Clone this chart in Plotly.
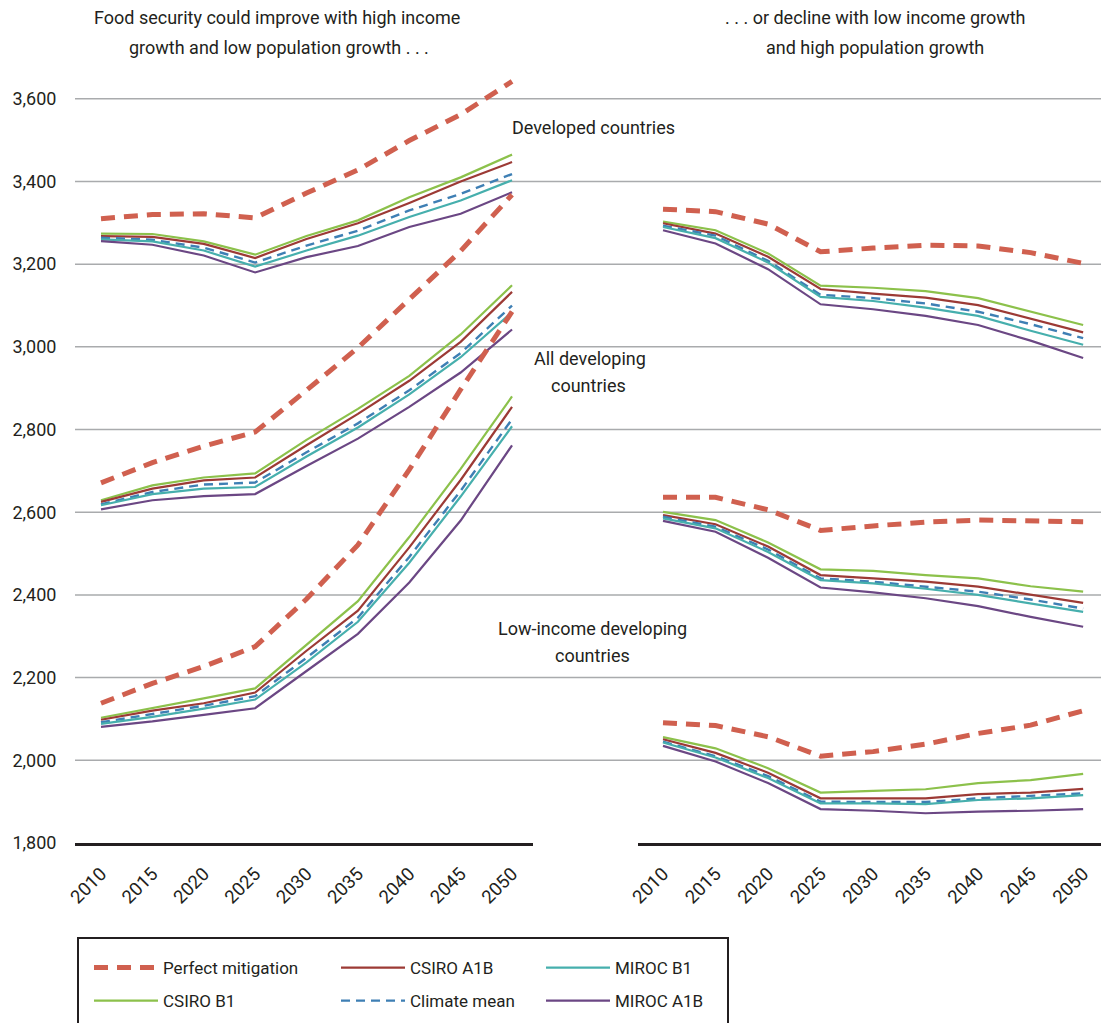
import plotly.graph_objects as go

# ---------------- data ----------------
years = [2010, 2015, 2020, 2025, 2030, 2035, 2040, 2045, 2050]
series = ["Perfect mitigation", "CSIRO B1", "CSIRO A1B", "Climate mean", "MIROC B1", "MIROC A1B"]

# Left panel: high income growth, low population growth
dev_pm_L = [3310, 3320, 3322, 3312, 3372, 3428, 3499, 3562, 3642]
dev_csb1_L = [3274, 3273, 3255, 3223, 3268, 3306, 3362, 3410, 3465]
dev_csa1b_L = [3268, 3266, 3249, 3215, 3261, 3299, 3348, 3400, 3447]
dev_mean_L = [3264, 3259, 3240, 3204, 3245, 3281, 3330, 3370, 3418]
dev_mib1_L = [3260, 3255, 3233, 3194, 3233, 3269, 3314, 3354, 3403]
dev_mia1b_L = [3256, 3247, 3221, 3180, 3217, 3244, 3290, 3322, 3374]

all_pm_L = [2671, 2720, 2760, 2794, 2895, 2998, 3115, 3232, 3368]
all_csb1_L = [2629, 2665, 2684, 2694, 2775, 2850, 2930, 3030, 3149]
all_csa1b_L = [2625, 2657, 2677, 2684, 2762, 2838, 2918, 3012, 3133]
all_mean_L = [2619, 2649, 2667, 2672, 2745, 2815, 2895, 2985, 3100]
all_mib1_L = [2617, 2644, 2657, 2661, 2735, 2805, 2885, 2975, 3084]
all_mia1b_L = [2607, 2629, 2639, 2644, 2712, 2778, 2855, 2938, 3042]

low_pm_L = [2138, 2186, 2227, 2275, 2390, 2521, 2703, 2897, 3085]
low_csb1_L = [2103, 2126, 2150, 2174, 2280, 2385, 2540, 2705, 2880]
low_csa1b_L = [2098, 2120, 2138, 2164, 2265, 2362, 2515, 2678, 2855]
low_mean_L = [2092, 2112, 2132, 2155, 2248, 2345, 2492, 2652, 2825]
low_mib1_L = [2088, 2105, 2125, 2147, 2237, 2335, 2478, 2638, 2808]
low_mia1b_L = [2081, 2094, 2110, 2126, 2216, 2306, 2430, 2580, 2762]

# Right panel: low income growth, high population growth
dev_pm_R = [3333, 3327, 3297, 3230, 3239, 3246, 3244, 3228, 3202]
dev_csb1_R = [3303, 3282, 3226, 3148, 3143, 3135, 3118, 3085, 3053]
dev_csa1b_R = [3299, 3274, 3218, 3140, 3129, 3119, 3101, 3068, 3035]
dev_mean_R = [3293, 3269, 3208, 3126, 3118, 3105, 3085, 3055, 3021]
dev_mib1_R = [3290, 3263, 3204, 3121, 3111, 3095, 3075, 3039, 3005]
dev_mia1b_R = [3282, 3250, 3188, 3103, 3091, 3075, 3053, 3015, 2973]

all_pm_R = [2636, 2636, 2606, 2556, 2567, 2576, 2581, 2579, 2577]
all_csb1_R = [2601, 2581, 2527, 2462, 2458, 2448, 2440, 2421, 2408]
all_csa1b_R = [2593, 2571, 2517, 2448, 2440, 2432, 2420, 2400, 2381]
all_mean_R = [2589, 2565, 2510, 2440, 2432, 2420, 2408, 2389, 2367]
all_mib1_R = [2585, 2561, 2504, 2436, 2428, 2415, 2400, 2380, 2359]
all_mia1b_R = [2579, 2553, 2490, 2418, 2406, 2392, 2373, 2347, 2323]

low_pm_R = [2091, 2084, 2057, 2010, 2021, 2039, 2065, 2085, 2120]
low_csb1_R = [2056, 2029, 1981, 1922, 1926, 1930, 1945, 1952, 1967]
low_csa1b_R = [2051, 2018, 1970, 1908, 1908, 1908, 1918, 1922, 1931]
low_mean_R = [2045, 2010, 1962, 1900, 1899, 1899, 1908, 1914, 1920]
low_mib1_R = [2043, 2007, 1957, 1896, 1896, 1894, 1904, 1908, 1916]
low_mia1b_R = [2035, 1997, 1945, 1882, 1878, 1872, 1876, 1878, 1882]

y_ticks = [1800, 2000, 2200, 2400, 2600, 2800, 3000, 3200, 3400, 3600]
grid_vals = [2000, 2200, 2400, 2600, 2800, 3000, 3200, 3400, 3600]

panels = {
    "x": [
        [dev_pm_L, dev_csb1_L, dev_csa1b_L, dev_mean_L, dev_mib1_L, dev_mia1b_L],
        [all_pm_L, all_csb1_L, all_csa1b_L, all_mean_L, all_mib1_L, all_mia1b_L],
        [low_pm_L, low_csb1_L, low_csa1b_L, low_mean_L, low_mib1_L, low_mia1b_L],
    ],
    "x2": [
        [dev_pm_R, dev_csb1_R, dev_csa1b_R, dev_mean_R, dev_mib1_R, dev_mia1b_R],
        [all_pm_R, all_csb1_R, all_csa1b_R, all_mean_R, all_mib1_R, all_mia1b_R],
        [low_pm_R, low_csb1_R, low_csa1b_R, low_mean_R, low_mib1_R, low_mia1b_R],
    ],
}

# ---------------- styles ----------------
styles = {
    "Perfect mitigation": dict(color="#d0604f", width=5, dash="14px,9px"),
    "CSIRO B1": dict(color="#8cc14b", width=2.2, dash="solid"),
    "CSIRO A1B": dict(color="#9c3a35", width=2.2, dash="solid"),
    "Climate mean": dict(color="#3e7fb4", width=2.4, dash="9px,6px"),
    "MIROC B1": dict(color="#46afad", width=2.2, dash="solid"),
    "MIROC A1B": dict(color="#6b4784", width=2.2, dash="solid"),
}
legend_of = {
    "Perfect mitigation": ("legend", 1), "CSIRO B1": ("legend", 2),
    "CSIRO A1B": ("legend2", 1), "Climate mean": ("legend2", 2),
    "MIROC B1": ("legend3", 1), "MIROC A1B": ("legend3", 2),
}
draw_order = [1, 2, 3, 4, 5, 0]  # perfect mitigation drawn on top

W, H = 1101, 1023
ML, MR, MT, MB = 75, 0, 74, 180
PW, PH = W - ML - MR, H - MT - MB
FONT = "Roboto, 'Noto Sans', sans-serif"
TXT = "#231f20"


def pxx(px):
    return (px - ML) / PW


def pxy(py):
    return (H - MB - py) / PH


fig = go.Figure()
for xa, regions in panels.items():
    for ri, region in enumerate(regions):
        for si in draw_order:
            name = series[si]
            st = styles[name]
            lg, rank = legend_of[name]
            show = (xa == "x" and ri == 0)
            fig.add_trace(go.Scatter(
                x=years, y=region[si], xaxis=xa, yaxis="y", mode="lines",
                name=name, legendgroup=name, legend=lg, legendrank=rank,
                showlegend=show,
                line=dict(color=st["color"], width=st["width"], dash=st["dash"]),
                hoverinfo="skip",
            ))

axis_common = dict(
    tickvals=years, tickangle=-45, showline=True, linecolor=TXT, linewidth=2.5,
    ticks="outside", ticklen=10, tickcolor="rgba(0,0,0,0)", showgrid=False,
    zeroline=False, tickfont=dict(size=18.5, color=TXT, family=FONT),
)
leg_common = dict(yanchor="top", xanchor="left", orientation="v",
                  font=dict(size=17, color=TXT, family=FONT), tracegroupgap=8,
                  itemwidth=64, bgcolor="rgba(0,0,0,0)")
fig.update_layout(
    width=W, height=H,
    margin=dict(l=ML, r=MR, t=MT, b=MB),
    paper_bgcolor="white", plot_bgcolor="white",
    font=dict(family=FONT, color=TXT),
    xaxis=dict(domain=[0, pxx(533)], range=[2007.47, 2052.04], anchor="y", **axis_common),
    xaxis2=dict(domain=[pxx(638), 1], range=[2007.62, 2051.7], anchor="y", **axis_common),
    yaxis=dict(range=[1800, 3660], tickvals=y_ticks, tickformat=",d", showgrid=False,
               zeroline=False, showline=False, ticks="outside", ticklen=14,
               tickcolor="rgba(0,0,0,0)", tickfont=dict(size=18, color=TXT, family=FONT)),
    legend=dict(x=pxx(89), y=pxy(950), **leg_common),
    legend2=dict(x=pxx(336), y=pxy(950), **leg_common),
    legend3=dict(x=pxx(541), y=pxy(950), **leg_common),
    showlegend=True,
)

shapes = []
for v in grid_vals:
    shapes.append(dict(type="line", xref="paper", yref="y", x0=0, x1=1, y0=v, y1=v,
                       line=dict(color="#a9abad", width=1.5), layer="below"))
shapes.append(dict(type="rect", xref="paper", yref="paper", x0=pxx(78), x1=pxx(728),
                   y0=pxy(938), y1=pxy(1040), line=dict(color=TXT, width=2),
                   fillcolor="rgba(0,0,0,0)", layer="above"))
fig.update_layout(shapes=shapes)

ann = []
def add_text(text, px, py, xanchor="center", size=18):
    ann.append(dict(text=text, x=pxx(px), y=pxy(py), xref="paper", yref="paper",
                    xanchor=xanchor, yanchor="middle", showarrow=False,
                    font=dict(size=size, color=TXT, family=FONT)))

add_text("Food security could improve with high income", 277, 18)
add_text("growth and low population growth . . .", 279, 48)
add_text(". . . or decline with low income growth", 875, 18)
add_text("and high population growth", 875, 48)
add_text("Developed countries", 510, 127, xanchor="left")
add_text("All developing", 590, 358)
add_text("countries", 588, 385)
add_text("Low-income developing", 592, 628)
add_text("countries", 592, 655)
fig.update_layout(annotations=ann)

fig.write_html("out.html", config={"displayModeBar": False},
               post_script="document.body.style.margin='0px';")
